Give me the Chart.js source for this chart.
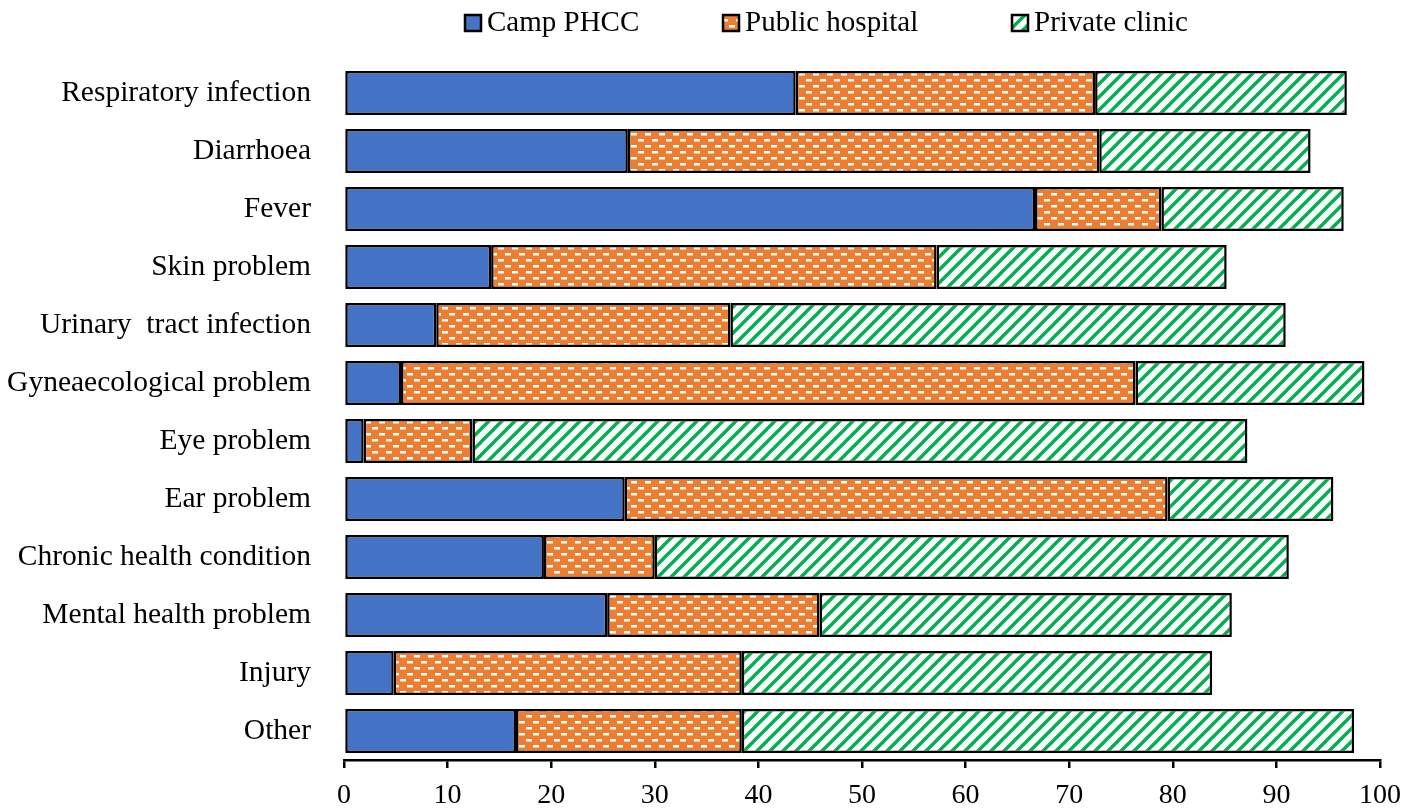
<!DOCTYPE html>
<html>
<head>
<meta charset="utf-8">
<script src="https://cdn.jsdelivr.net/npm/chart.js@4"></script>
<style>
  html, body { margin: 0; padding: 0; background: #fff; }
  #wrap { width: 1418px; height: 811px; position: relative; }
</style>
</head>
<body>
<div id="wrap"><canvas id="care-chart"></canvas></div>
<script>
// Categories and series (percent)
const conditions = [
    'Respiratory infection', 'Diarrhoea', 'Fever', 'Skin problem',
    'Urinary  tract infection', 'Gyneaecological problem', 'Eye problem',
    'Ear problem', 'Chronic health condition', 'Mental health problem',
    'Injury', 'Other'
];
const campPHCC = [43.6, 27.4, 66.7, 14.2, 8.9, 5.5, 1.9, 27.1, 19.3, 25.4, 4.8, 16.6];
const publicHospital = [28.9, 45.5, 12.2, 43.0, 28.4, 70.9, 10.5, 52.4, 10.7, 20.5, 33.6, 21.8];
const privateClinic = [24.3, 20.4, 17.6, 28.0, 53.6, 22.1, 74.8, 16.0, 61.2, 39.8, 45.4, 59.1];
const xTicks = [0, 10, 20, 30, 40, 50, 60, 70, 80, 90, 100];

// brick-like white dashes on orange
function makeDashPattern() {
    const c = document.createElement('canvas');
    c.width = 14; c.height = 12;
    const g = c.getContext('2d');
    g.fillStyle = '#ed7d31';
    g.fillRect(0, 0, 14, 12);
    g.fillStyle = '#ffffff';
    g.fillRect(1, 1, 6, 2.5);
    g.fillRect(8, 7, 6, 2.5);
    return g.createPattern(c, 'repeat');
}

// green diagonal stripes on white
function makeStripePattern() {
    const s = 13;
    const c = document.createElement('canvas');
    c.width = s; c.height = s;
    const g = c.getContext('2d');
    g.fillStyle = '#ffffff';
    g.fillRect(0, 0, s, s);
    g.strokeStyle = '#00b050';
    g.lineWidth = 3.4;
    for (let k = -1; k <= 1; k++) {
        g.beginPath();
        g.moveTo(k * s - 2, s + 2);
        g.lineTo(k * s + s + 2, -2);
        g.stroke();
    }
    return g.createPattern(c, 'repeat');
}

const fontFamily = '"Liberation Serif", "Times New Roman", serif';

// legend drawn by hand so the row sits close to the top
const legendX = [465, 723, 1012];
const topLegend = {
    id: 'topLegend',
    afterDraw(chart) {
        const c = chart.ctx;
        c.save();
        c.font = '29px ' + fontFamily;
        c.textBaseline = 'middle';
        chart.data.datasets.forEach((ds, i) => {
            const x = legendX[i], y = 23, b = 16;
            c.fillStyle = ds.backgroundColor;
            c.fillRect(x, y - b / 2, b, b);
            c.strokeStyle = '#000';
            c.lineWidth = 2.5;
            c.strokeRect(x, y - b / 2, b, b);
            c.fillStyle = '#000';
            c.fillText(ds.label, x + b + 6, y);
        });
        c.restore();
    }
};

const ctx = document.getElementById('care-chart').getContext('2d');
new Chart(ctx, {
    type: 'bar',
    data: {
        labels: conditions,
        datasets: [
            { label: 'Camp PHCC', data: campPHCC, backgroundColor: '#4472c4' },
            { label: 'Public hospital', data: publicHospital, backgroundColor: makeDashPattern() },
            { label: 'Private clinic', data: privateClinic, backgroundColor: makeStripePattern() }
        ].map(ds => Object.assign(ds, {
            borderColor: '#000000',
            borderWidth: 2.5,
            borderSkipped: false,
            categoryPercentage: 1.0,
            barPercentage: 0.76
        }))
    },
    options: {
        indexAxis: 'y',
        responsive: true,
        maintainAspectRatio: false,
        animation: false,
        layout: { padding: { top: 64, right: 38, bottom: 0, left: 0 } },
        plugins: {
            tooltip: { enabled: false },
            legend: { display: false }
        },
        scales: {
            x: {
                stacked: true,
                min: 0,
                max: 100,
                afterBuildTicks: axis => { axis.ticks = xTicks.map(v => ({ value: v })); },
                afterFit: axis => { axis.height = 51; },
                border: { display: true, color: '#000', width: 2.5 },
                grid: { display: true, drawOnChartArea: false, drawTicks: true, tickLength: 8, color: '#000', lineWidth: 2.5 },
                ticks: { color: '#000', font: { family: fontFamily, size: 28 }, padding: 11, maxRotation: 0 }
            },
            y: {
                stacked: true,
                afterFit: axis => { axis.width = 344; },
                border: { display: false },
                grid: { display: false, drawTicks: false },
                ticks: { color: '#000', font: { family: fontFamily, size: 29.5 }, padding: 33 }
            }
        }
    },
    plugins: [topLegend]
});
</script>
</body>
</html>
